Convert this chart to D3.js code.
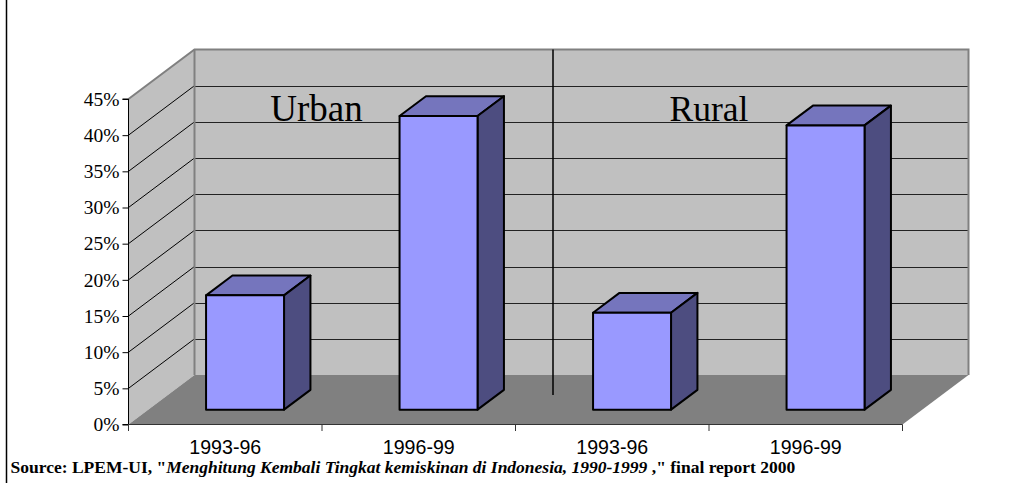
<!DOCTYPE html>
<html><head><meta charset="utf-8">
<script src="https://cdn.jsdelivr.net/npm/d3@7"></script>
<style>html,body{margin:0;padding:0;background:#fff}svg{display:block}</style>
</head><body><svg id="c" width="1026" height="483"></svg>
<script>
const categories = ["Urban 1993-96","Urban 1996-99","Rural 1993-96","Rural 1996-99"];
const categoryLabels = ["1993-96","1996-99","1993-96","1996-99"];
const values = [15.8, 40.6, 13.4, 39.3];
const yTicks = [0,5,10,15,20,25,30,35,40,45];
const panels = ["Urban","Rural"];
const panelAnchors = [1,3];
const sourceParts = [
  ["Source: LPEM-UI, \"",false],
  ["Menghitung Kembali Tingkat kemiskinan di Indonesia, 1990-1999 ",true],
  [",\" final report 2000",false]
];

const svg = d3.select("#c");
const L=128.5, R=902.5, B=424.5, T=99;
const DX=66, DY=-49.5;
const x = d3.scaleBand().domain(categories).range([L,R]).paddingInner(0).paddingOuter(0);
const y = d3.scaleLinear().domain([0,45]).range([B,T]);
const pts = a => a.map(p=>p.join(",")).join(" ");

// left frame line
svg.append("line").attr("x1",6.5).attr("x2",6.5).attr("y1",0).attr("y2",483).attr("stroke","#000").attr("stroke-width",1.5);

// walls and floor
const wall = "#c0c0c0", floor="#808080", edge="#808080";
svg.append("polygon").attr("points",pts([[L,B],[L,T],[L+DX,T+DY],[L+DX,B+DY]])).attr("fill",wall);
svg.append("polygon").attr("points",pts([[L+DX,T+DY],[R+DX,T+DY],[R+DX,B+DY],[L+DX,B+DY]])).attr("fill",wall);
svg.append("polygon").attr("points",pts([[L,B],[R,B],[R+DX,B+DY],[L+DX,B+DY]])).attr("fill",floor);

// gridlines
const gt = yTicks.filter(d=>d>0&&d<45);
svg.append("g").selectAll("line").data(gt).join("line")
  .attr("x1",L).attr("y1",d=>y(d)).attr("x2",L+DX).attr("y2",d=>y(d)+DY)
  .attr("stroke","#000").attr("stroke-width",1);
svg.append("g").selectAll("line").data(gt).join("line")
  .attr("x1",L+DX).attr("y1",d=>Math.round(y(d)+DY)+.5).attr("x2",R+DX).attr("y2",d=>Math.round(y(d)+DY)+.5)
  .attr("stroke","#222").attr("stroke-width",1.2);

// wall edges
svg.append("polyline").attr("points",pts([[L,T],[L+DX,T+DY],[R+DX,T+DY],[R+DX,B+DY]]))
  .attr("fill","none").attr("stroke",edge).attr("stroke-width",2);
svg.append("line").attr("x1",L+DX).attr("x2",L+DX).attr("y1",T+DY).attr("y2",B+DY).attr("stroke",edge).attr("stroke-width",2);

// panel labels
svg.append("g").selectAll("text").data(panels).join("text")
  .attr("x",(d,i)=>L+x.step()*panelAnchors[i]+(i?0:-5.5))
  .attr("y",121).attr("text-anchor","middle")
  .attr("font-family","Liberation Serif").attr("font-size",(d,i)=>i?35.5:37).attr("fill","#000").text(d=>d);

// divider
svg.append("line").attr("x1",553).attr("x2",553).attr("y1",T+DY).attr("y2",395).attr("stroke","#000").attr("stroke-width",1.5);

// bars
const bw = x.step()*0.403, offX=DX*0.3, offY=DY*0.3, dpX=DX*0.4, dpY=DY*0.4;
const g = svg.append("g").selectAll("g").data(categories).join("g");
const bx = c => x(c)+(x.step()-bw)/2+offX;
const by0 = B+offY;
const h = i => y(0)-y(values[i]);
function st(s){return s.attr("stroke","#000").attr("stroke-width",2).attr("stroke-linejoin","round");}
st(g.append("polygon").attr("fill","#7575bd").attr("points",(c,i)=>{const X=bx(c),Y=by0-h(i);return pts([[X,Y],[X+bw,Y],[X+bw+dpX,Y+dpY],[X+dpX,Y+dpY]]);}));
st(g.append("polygon").attr("fill","#4d4d80").attr("points",(c,i)=>{const X=bx(c)+bw,Y=by0-h(i);return pts([[X,Y],[X+dpX,Y+dpY],[X+dpX,by0+dpY],[X,by0]]);}));
st(g.append("rect").attr("fill","#9999ff").attr("x",c=>bx(c)).attr("y",(c,i)=>by0-h(i)).attr("width",bw).attr("height",(c,i)=>h(i)));

// y axis
const ya = svg.append("g").attr("transform",`translate(${L},0)`)
  .call(d3.axisLeft(y).tickValues(yTicks).tickFormat(d=>d+"%").tickSize(6).tickPadding(3));
ya.selectAll("path,line").attr("stroke","#000").attr("stroke-width",1);
ya.select("path").attr("d",`M-6,${T}H0V${B}H-6`);
ya.selectAll("text").attr("font-family","Liberation Serif").attr("font-size",19.5).attr("fill","#000");

// x axis
const xa = svg.append("g").attr("transform",`translate(0,${B})`)
  .call(d3.axisBottom(x).tickFormat((d,i)=>categoryLabels[i]).tickSize(0).tickPadding(0));
xa.select("path").attr("stroke","#333").attr("stroke-width",1).attr("d",`M${L},0H${R}`);
xa.selectAll("text").attr("font-family","Liberation Sans").attr("font-size",19.6).attr("fill","#000").attr("dy",0).attr("y",29).attr("dominant-baseline","auto");
svg.append("g").selectAll("line").data(d3.range(categories.length+1)).join("line")
  .attr("x1",i=>L+i*x.step()).attr("x2",i=>L+i*x.step()).attr("y1",B).attr("y2",B+6.5)
  .attr("stroke","#333").attr("stroke-width",1);

// source
const t = svg.append("text").attr("x",10.5).attr("y",473).attr("font-family","Liberation Serif").attr("font-size",17.5).attr("font-weight","bold").attr("fill","#000");
sourceParts.forEach(([s,it])=>t.append("tspan").style("white-space","pre").attr("font-style",it?"italic":"normal").text(s));
</script></body></html>
